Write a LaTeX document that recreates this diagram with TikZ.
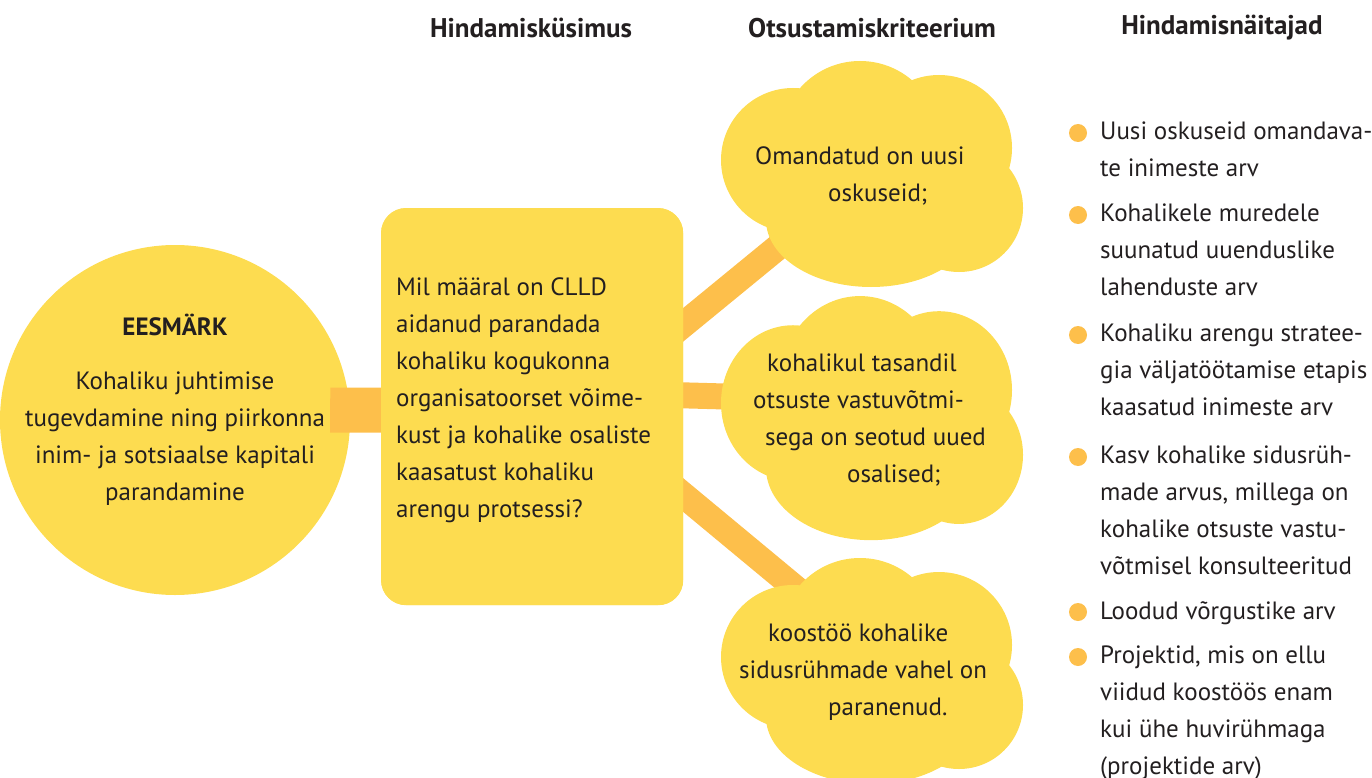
\documentclass[tikz,border=0pt]{standalone}
\usepackage{fontspec}
\setmainfont{PT Sans}
\definecolor{yel}{HTML}{FDDC50}
\definecolor{org}{HTML}{FDBF4B}
\definecolor{ink}{HTML}{231F20}
\newcommand\cloudfill[3]{%
\begin{scope}[shift={(#1,#2)},yscale=#3]
\fill[yel] (72,100) circle[radius=72];
\fill[yel] (139,81) circle[radius=80];
\fill[yel] (218,88) circle[radius=73];
\fill[yel] (238,148) circle[radius=64];
\fill[yel] (150,160) ellipse[x radius=105,y radius=67];
\end{scope}}
\tikzset{
 txt/.style={font=\fontsize{25}{37}\selectfont, text=ink, inner sep=0pt, align=left},
 head/.style={font=\fontsize{27}{32}\selectfont\bfseries, text=ink, inner sep=0pt},
 band/.style={draw=org, line width=45pt},
 conn/.style={draw=org, line width=26pt},
 dot/.style={circle, fill=org, minimum size=18pt, inner sep=0pt},
}
\begin{document}
\begin{tikzpicture}[x=1pt,y=-1pt]
\useasboundingbox (0,0) rectangle (1372,778);
% headers
\node[head] (h1) at (531,28) {Hindamisküsimus};
\node[head] (h2) at (872,28) {Otsustamiskriteerium};
\node[head] (h3) at (1222,28) {Hindamisnäitajad};
% connectors (behind)
\coordinate (a1) at (600,393); \coordinate (b1) at (800,229);
\coordinate (a2) at (600,393); \coordinate (b2) at (800,398.6);
\coordinate (a3) at (600,426); \coordinate (b3) at (800,592);
\draw[conn] (a1) -- (b1);
\draw[conn] (a2) -- (b2);
\draw[conn] (a3) -- (b3);
% goal circle
\node[circle, fill=yel, minimum size=350pt, inner sep=0pt] (goal) at (175,420) {};
% question box
\node[rectangle, rounded corners=25pt, fill=yel, minimum width=302pt, minimum height=397pt, inner sep=0pt, anchor=north west] (q) at (381,208) {};
\draw[band] ([xshift=-20pt,yshift=10pt]goal.east) -- ([xshift=0pt,yshift=-3.5pt]q.west);
\fill[yel, rounded corners=25pt] (381,208) rectangle (683,605);
% clouds
\cloudfill{721}{60}{1}
\cloudfill{721}{295}{1.08}
\cloudfill{721}{557}{1}
% texts
\node[head, font=\fontsize{25}{37}\selectfont\bfseries] (gh) at (175,325) {EESMÄRK};
\node[txt, align=center, anchor=north] (gt) at (175,372) {Kohaliku juhtimise\\tugevdamine ning piirkonna\\inim- ja sotsiaalse kapitali\\parandamine};
\node[txt, anchor=north west] (qt) at (396,277) {Mil määral on CLLD\\aidanud parandada\\kohaliku kogukonna\\organisatoorset võime-\\kust ja kohalike osaliste\\kaasatust kohaliku\\arengu protsessi?};
\node[txt, anchor=north west] (k1) at (755,146) {Omandatud on uusi\\\hspace*{73pt}oskuseid;};
\node[txt, anchor=north west] (k2) at (753,354) {\hspace*{14pt}kohalikul tasandil\\otsuste vastuvõtmi-\\\hspace*{12pt}sega on seotud uued\\\hspace*{94pt}osalised;};
\node[txt, anchor=north west] (k3) at (739,624) {\hspace*{29pt}koostöö kohalike\\sidusrühmade vahel on\\\hspace*{89pt}paranenud.};
% indicators
\node[dot] (d1) at (1078,133) {};
\node[txt, anchor=north west] (i1) at (1100,122) {Uusi oskuseid omandava-\\te inimeste arv};
\node[dot] (d2) at (1078,215) {};
\node[txt, anchor=north west] (i2) at (1100,204) {Kohalikele muredele\\suunatud uuenduslike\\lahenduste arv};
\node[dot] (d3) at (1078,335) {};
\node[txt, anchor=north west] (i3) at (1100,324) {Kohaliku arengu stratee-\\gia väljatöötamise etapis\\kaasatud inimeste arv};
\node[dot] (d4) at (1078,457) {};
\node[txt, anchor=north west] (i4) at (1100,446) {Kasv kohalike sidusrüh-\\made arvus, millega on\\kohalike otsuste vastu-\\võtmisel konsulteeritud};
\node[dot] (d5) at (1078,612) {};
\node[txt, anchor=north west] (i5) at (1100,601) {Loodud võrgustike arv};
\node[dot] (d6) at (1078,657) {};
\node[txt, anchor=north west] (i6) at (1100,646) {Projektid, mis on ellu\\viidud koostöös enam\\kui ühe huvirühmaga\\(projektide arv)};
\end{tikzpicture}
\end{document}
